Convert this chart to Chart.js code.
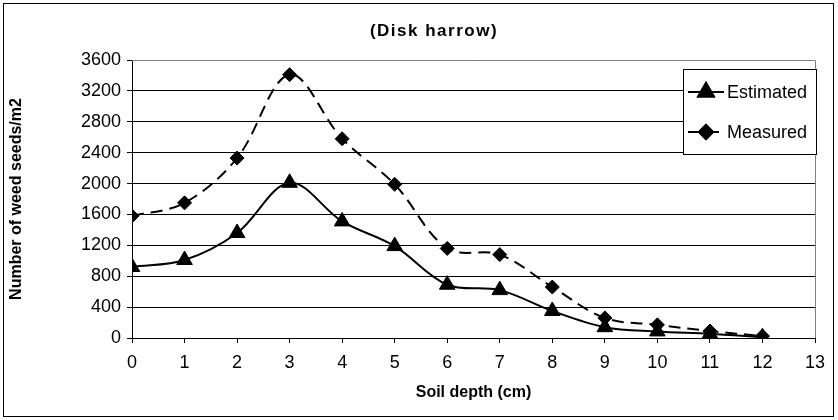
<!DOCTYPE html>
<html>
<head>
<meta charset="utf-8">
<script src="https://cdn.jsdelivr.net/npm/chart.js@4"></script>
<style>
  html, body { margin: 0; padding: 0; background: #fff; }
  .wrap { position: relative; width: 838px; height: 420px; }
  .frame { position: absolute; left: 3px; top: 3px; width: 829px; height: 412px; border: 1px solid #000; pointer-events: none; }
</style>
</head>
<body>
<div class="wrap">
  <canvas id="myChart" width="838" height="420"></canvas>
  <div class="frame"></div>
</div>
<script>
var chartTitle = "(Disk harrow)";
var xTitle = "Soil depth (cm)";
var yTitle = "Number of weed seeds/m2";
var depths = [0, 1, 2, 3, 4, 5, 6, 7, 8, 9, 10, 11, 12];
var estimated = [920, 1010, 1360, 2010, 1510, 1190, 690, 620, 350, 140, 85, 55, 10];
var measured = [1580, 1750, 2330, 3410, 2580, 1990, 1160, 1080, 660, 260, 170, 90, 25];
var seriesNames = ["Estimated", "Measured"];

var FONT = "'Liberation Sans', Arial, sans-serif";

function toPoints(vals) {
    var pts = new Array;
    for (var i = 0; i < depths.length; i++) {
        pts.push({x: depths[i], y: vals[i]});
    }
    return pts;
}

// title, plot frame and the excel style legend box
var extras = {
    id: 'extras',
    beforeDatasetsDraw: function(chart) {
        var a = chart.chartArea;
        var c = chart.ctx;
        c.save();
        c.strokeStyle = '#808080';
        c.lineWidth = 1;
        c.beginPath();
        c.moveTo(a.left, a.top + 0.5);
        c.lineTo(a.right + 0.5, a.top + 0.5);
        c.lineTo(a.right + 0.5, a.bottom);
        c.stroke();
        c.restore();
    },
    afterDraw: function(chart) {
        var c = chart.ctx;
        c.save();
        c.fillStyle = '#000';
        c.font = 'bold 17px ' + FONT;
        c.textAlign = 'center';
        c.textBaseline = 'middle';
        c.letterSpacing = '1.5px';
        c.fillText(chartTitle, 434, 31);
        c.letterSpacing = '0px';

        // legend
        var bx = 683, by = 69, bw = 133, bh = 85;
        c.fillStyle = '#fff';
        c.fillRect(bx, by, bw, bh);
        c.strokeStyle = '#000';
        c.lineWidth = 1;
        c.strokeRect(bx + 0.5, by + 0.5, bw, bh);
        var rows = [by + 23, by + 63];
        for (var i = 0; i < 2; i++) {
            var ds = chart.data.datasets[i];
            c.strokeStyle = '#000';
            c.lineWidth = 2;
            c.setLineDash(i == 1 ? [12, 7] : []);
            c.beginPath();
            c.moveTo(bx + 5, rows[i]);
            c.lineTo(bx + 41, rows[i]);
            c.stroke();
            c.setLineDash([]);
            c.fillStyle = '#000';
            Chart.helpers.drawPoint(c, {pointStyle: ds.pointStyle, radius: ds.pointRadius, borderWidth: 1}, bx + 23, rows[i]);
            c.fill();
            c.stroke();
            c.font = '18px ' + FONT;
            c.textAlign = 'left';
            c.fillText(seriesNames[i], bx + 44, rows[i] + 1);
        }
        c.restore();
    }
};

var ctx = document.getElementById("myChart").getContext('2d');
new Chart(ctx, {
    type: 'line',
    data: {
        datasets: [{
            label: seriesNames[0],
            data: toPoints(estimated),
            borderColor: '#000',
            backgroundColor: '#000',
            borderWidth: 2,
            pointStyle: 'triangle',
            pointRadius: 9,
            pointBorderWidth: 1,
            tension: 0.35,
            fill: false
        }, {
            label: seriesNames[1],
            data: toPoints(measured),
            borderColor: '#000',
            backgroundColor: '#000',
            borderWidth: 2,
            borderDash: [12, 7],
            pointStyle: 'rectRot',
            pointRadius: 7,
            pointBorderWidth: 1,
            tension: 0.35,
            fill: false
        }]
    },
    options: {
        responsive: false,
        animation: false,
        layout: { padding: { left: 6, top: 60, right: 23, bottom: 0 } },
        plugins: {
            legend: { display: false },
            title: { display: false },
            tooltip: { enabled: false }
        },
        scales: {
            x: {
                type: 'linear',
                min: 0,
                max: 13,
                ticks: { stepSize: 1, color: '#000', font: { family: FONT, size: 18 }, padding: 9, maxRotation: 0 },
                grid: { drawOnChartArea: false, color: '#000', tickLength: 5 },
                border: { color: '#000', width: 1 },
                title: { display: true, text: xTitle, color: '#000', font: { family: FONT, size: 16, weight: 'bold' }, padding: { top: 0, bottom: 18 } },
                afterFit: function(scale) { scale.height = 82; }
            },
            y: {
                min: 0,
                max: 3600,
                ticks: {
                    stepSize: 400, color: '#000', font: { family: FONT, size: 18 }, padding: 6,
                    callback: function(v) { return String(v); }
                },
                grid: { color: '#000', tickLength: 5 },
                border: { color: '#000', width: 1 },
                title: { display: true, text: yTitle, color: '#000', font: { family: FONT, size: 16, weight: 'bold' }, padding: { top: 1, bottom: 0 } },
                afterFit: function(scale) { scale.width = 126; }
            }
        }
    },
    plugins: [extras]
});
</script>
</body>
</html>
